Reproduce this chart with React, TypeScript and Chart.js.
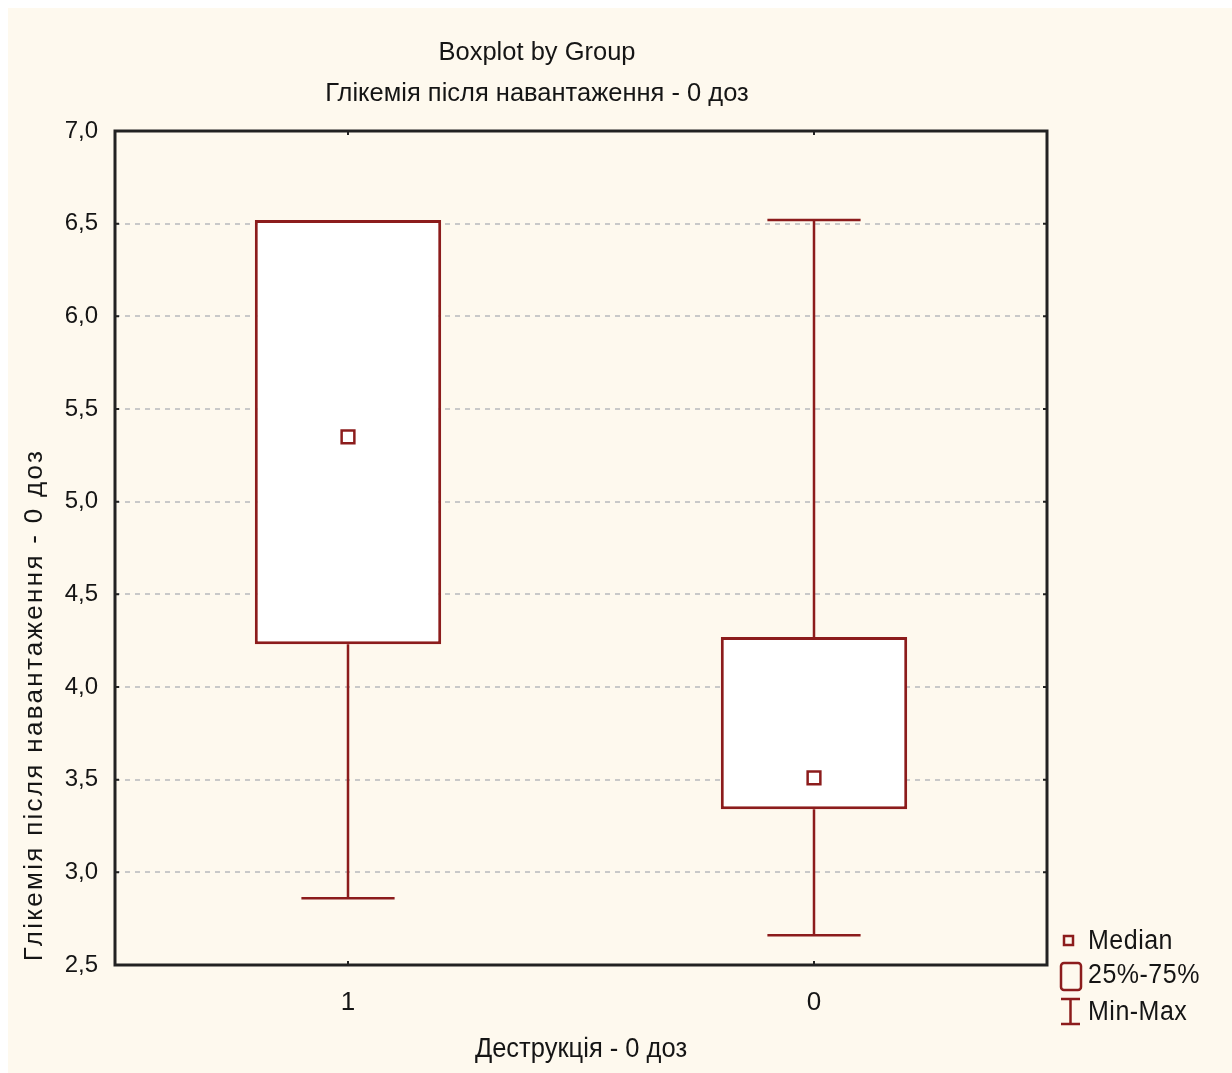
import React, { useEffect, useRef } from "react";
import { Chart, registerables } from "chart.js";

Chart.register(...registerables);

// Groups on the x axis and their five-number summaries
const categories = ["1", "0"];
const minValues = [2.86, 2.66];
const q1Values = [4.23, 3.34];
const medianValues = [5.35, 3.51];
const q3Values = [6.52, 4.27];
const maxValues = [6.52, 6.52];

// Value axis range and step
const yMin = 2.5;
const yMax = 7.0;
const yStep = 0.5;

const titleLines = ["Boxplot by Group", "Глікемія після навантаження - 0 доз"];
const xTitle = "Деструкція - 0 доз";
const yTitle = "Глікемія після навантаження - 0 доз";
const legendLabels = ["Median", "25%-75%", "Min-Max"];

const FONT = "'Liberation Sans', Arial, sans-serif";
const BOX_COLOR = "#8c1c1c";
const TEXT_COLOR = "#151515";
const PAGE_BG = "#fef9ee";

// draws text slightly stretched vertically, like the tall lettering of the labels
function tallText(ctx: CanvasRenderingContext2D, text: string, x: number, y: number, sy = 1.08) {
  ctx.save();
  ctx.translate(x, y);
  ctx.scale(1, sy);
  ctx.fillText(text, 0, 0);
  ctx.restore();
}

const boxPlotDecor = {
  id: "boxPlotDecor",
  afterDatasetsDraw(chart: any) {
    const { ctx, scales } = chart;
    const x = scales.x;
    const y = scales.y;
    const meta = chart.getDatasetMeta(0);
    ctx.save();
    ctx.strokeStyle = BOX_COLOR;
    ctx.lineWidth = 2.5;
    categories.forEach((_, i) => {
      const cx = x.getPixelForValue(i);
      const bar = meta.data[i];
      const half = bar ? bar.width / 4 : 45;
      const yTop = y.getPixelForValue(maxValues[i]);
      const yQ3 = y.getPixelForValue(q3Values[i]);
      const yQ1 = y.getPixelForValue(q1Values[i]);
      const yBot = y.getPixelForValue(minValues[i]);
      ctx.beginPath();
      if (yTop < yQ3 - 2) {
        ctx.moveTo(cx, yQ3);
        ctx.lineTo(cx, yTop);
        ctx.moveTo(cx - half, yTop);
        ctx.lineTo(cx + half, yTop);
      }
      ctx.moveTo(cx, yQ1);
      ctx.lineTo(cx, yBot);
      ctx.moveTo(cx - half, yBot);
      ctx.lineTo(cx + half, yBot);
      ctx.stroke();
    });
    ctx.restore();
  },
  afterDraw(chart: any) {
    const { ctx, chartArea, scales } = chart;
    const { left, right, top, bottom } = chartArea;
    ctx.save();

    // plot frame
    ctx.strokeStyle = "#222";
    ctx.lineWidth = 3;
    ctx.strokeRect(left, top, right - left, bottom - top);

    // inner tick marks
    ctx.lineWidth = 2;
    ctx.beginPath();
    scales.y.ticks.forEach((t: any) => {
      const py = scales.y.getPixelForValue(t.value);
      ctx.moveTo(left, py);
      ctx.lineTo(left + 4, py);
      ctx.moveTo(right, py);
      ctx.lineTo(right - 4, py);
    });
    categories.forEach((_, i) => {
      const px = scales.x.getPixelForValue(i);
      ctx.moveTo(px, top);
      ctx.lineTo(px, top + 4);
      ctx.moveTo(px, bottom);
      ctx.lineTo(px, bottom - 4);
    });
    ctx.stroke();

    // titles
    ctx.fillStyle = TEXT_COLOR;
    ctx.textAlign = "center";
    ctx.textBaseline = "middle";
    ctx.font = `25.5px ${FONT}`;
    tallText(ctx, titleLines[0], 529, 45, 1.02);
    tallText(ctx, titleLines[1], 529, 86, 1.02);

    // rotated value-axis title
    ctx.save();
    ctx.translate(27, 697);
    ctx.rotate(-Math.PI / 2);
    (ctx as any).letterSpacing = "2.3px";
    ctx.font = `26px ${FONT}`;
    tallText(ctx, yTitle, 0, 0, 1.0);
    ctx.restore();

    // legend
    ctx.strokeStyle = BOX_COLOR;
    ctx.lineWidth = 2.5;
    ctx.strokeRect(1056, 928, 9, 9);
    ctx.beginPath();
    (ctx as any).roundRect(1053, 955, 20, 27, 3);
    ctx.stroke();
    ctx.beginPath();
    ctx.moveTo(1053, 991);
    ctx.lineTo(1072, 991);
    ctx.moveTo(1062.5, 991);
    ctx.lineTo(1062.5, 1016);
    ctx.moveTo(1053, 1016);
    ctx.lineTo(1072, 1016);
    ctx.stroke();
    ctx.textAlign = "left";
    ctx.font = `25px ${FONT}`;
    (ctx as any).letterSpacing = "0.5px";
    tallText(ctx, legendLabels[0], 1080, 934);
    tallText(ctx, legendLabels[1], 1080, 968);
    tallText(ctx, legendLabels[2], 1080, 1005);

    // category-axis title
    ctx.textAlign = "center";
    (ctx as any).letterSpacing = "0px";
    ctx.font = `25.5px ${FONT}`;
    tallText(ctx, xTitle, (left + right) / 2, 1042, 1.05);
    ctx.restore();
  },
};

export default function App() {
  const ref = useRef<HTMLCanvasElement>(null);

  useEffect(() => {
    if (!ref.current) return;
    const chart = new Chart(ref.current, {
      type: "bar",
      data: {
        labels: categories,
        datasets: [
          {
            type: "bar",
            label: "25%-75%",
            data: categories.map((_, i) => [q1Values[i], q3Values[i]]),
            backgroundColor: "#ffffff",
            borderColor: BOX_COLOR,
            borderWidth: 3,
            borderSkipped: false,
            barPercentage: 0.4,
            categoryPercentage: 1,
            order: 2,
          } as any,
          {
            type: "line",
            label: "Median",
            data: medianValues,
            showLine: false,
            pointStyle: "rect",
            pointRadius: 9,
            pointBorderWidth: 2.5,
            pointBackgroundColor: "#ffffff",
            pointBorderColor: BOX_COLOR,
            order: 1,
          } as any,
        ],
      },
      options: {
        responsive: false,
        animation: false,
        layout: { padding: { left: 0, right: 185, top: 123, bottom: 0 } },
        plugins: {
          legend: { display: false },
          title: { display: false },
          tooltip: { enabled: false },
        },
        scales: {
          x: {
            grid: { display: false, drawTicks: false },
            border: { display: false },
            ticks: {
              color: TEXT_COLOR,
              font: { family: FONT, size: 26 },
              padding: 22,
            },
            afterFit(scale: any) {
              scale.height = 108;
            },
          },
          y: {
            min: yMin,
            max: yMax,
            grid: {
              drawTicks: false,
              lineWidth: 2,
              color: (c: any) =>
                c.tick && (c.tick.value === yMin || c.tick.value === yMax) ? "rgba(0,0,0,0)" : "#c9c9c9",
            },
            border: { display: false, dash: [5, 5] },
            ticks: {
              stepSize: yStep,
              color: TEXT_COLOR,
              font: { family: FONT, size: 24 },
              padding: 17,
              callback: (v: any) => Number(v).toFixed(1).replace(".", ","),
            },
            afterFit(scale: any) {
              scale.width = 107;
            },
          },
        },
      },
      plugins: [boxPlotDecor],
    });
    return () => chart.destroy();
  }, []);

  return (
    <div
      style={{
        position: "fixed",
        left: 8,
        top: 8,
        width: 1224,
        height: 1065,
        background: PAGE_BG,
      }}
    >
      <canvas ref={ref} width={1224} height={1065} style={{ display: "block" }} />
    </div>
  );
}
